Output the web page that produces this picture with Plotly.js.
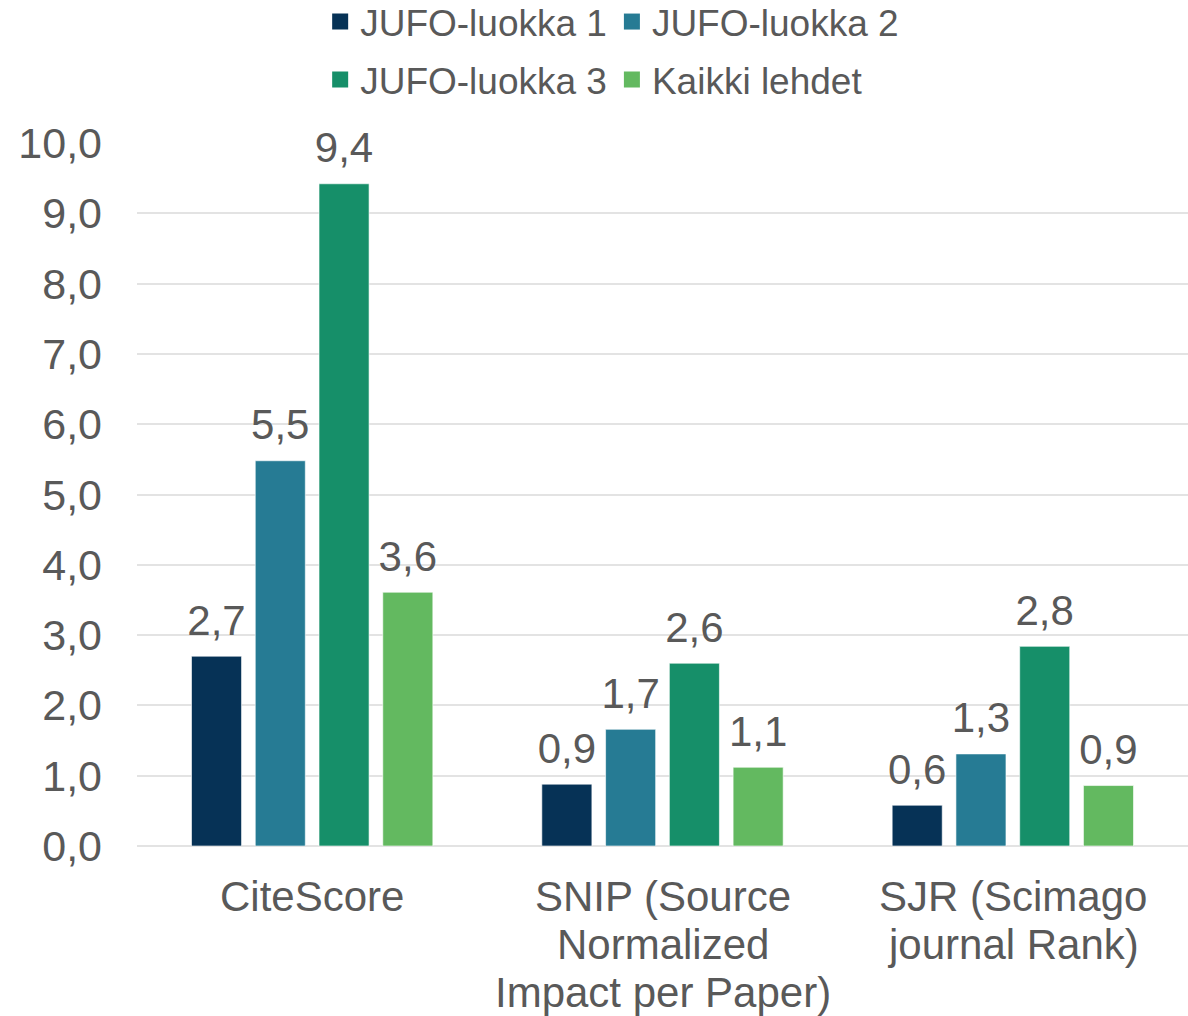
<!DOCTYPE html>
<html>
<head>
<meta charset="utf-8">
<script src="https://cdn.plot.ly/plotly-3.0.1.min.js"></script>
<style>html,body{margin:0;padding:0;background:#fff;}#chart{width:1188px;height:1016px;}</style>
</head>
<body>
<div id="chart"></div>
<script>
var categories = ["CiteScore", "SNIP (Source<br>Normalized<br>Impact per Paper)", "SJR (Scimago<br>journal Rank)"];
var seriesNames = ["JUFO-luokka 1", "JUFO-luokka 2", "JUFO-luokka 3", "Kaikki lehdet"];
var jufo1 = [2.7, 0.88, 0.58];
var jufo2 = [5.48, 1.66, 1.31];
var jufo3 = [9.42, 2.60, 2.84];
var kaikki = [3.61, 1.12, 0.86];
var yTicks = [0, 1, 2, 3, 4, 5, 6, 7, 8, 9, 10];
var colors = ["#063256", "#267b94", "#168f69", "#63b960"];

var FONT = "Liberation Sans, Arial, sans-serif";
var TXT = "#595959";
var seriesValues = [jufo1, jufo2, jufo3, kaikki];
var GAP = 0.272;

var traces = [];
// bars
seriesValues.forEach(function (vals, i) {
  traces.push({
    type: "bar",
    x: categories,
    y: vals,
    name: seriesNames[i],
    showlegend: false,
    marker: {color: colors[i], line: {color: "rgba(255,255,255,0.6)", width: 1}},
    hoverinfo: "skip"
  });
});
// value labels (grouped scatter text aligned with bars)
seriesValues.forEach(function (vals, i) {
  traces.push({
    type: "scatter",
    mode: "markers+text",
    x: categories,
    y: vals,
    name: seriesNames[i],
    showlegend: false,
    marker: {size: 16, color: "rgba(0,0,0,0)"},
    texttemplate: "%{y:.1f}",
    textposition: "top center",
    cliponaxis: false,
    textfont: {family: FONT, size: 42, color: TXT},
    hoverinfo: "skip"
  });
});
// legend carriers on hidden overlay axes
seriesValues.forEach(function (vals, i) {
  traces.push({
    type: "scatter",
    mode: "markers",
    x: [0],
    y: [null],
    xaxis: "x2",
    yaxis: "y2",
    name: seriesNames[i],
    legend: i < 2 ? "legend" : "legend2",
    marker: {symbol: "square", color: colors[i], size: 20},
    hoverinfo: "skip"
  });
});

// category labels, one annotation per line
var annotations = [];
categories.forEach(function (cat) {
  cat.split("<br>").forEach(function (line, k) {
    annotations.push({
      x: cat,
      xref: "x",
      yref: "paper",
      y: 0,
      yanchor: "middle",
      xanchor: "center",
      yshift: -(50 + k * 48),
      borderpad: 0,
      text: line,
      showarrow: false,
      font: {family: FONT, size: 42, color: TXT}
    });
  });
});

var legendBase = {
  orientation: "h",
  xref: "container",
  yref: "container",
  xanchor: "left",
  yanchor: "middle",
  x: 0.2695,
  font: {family: FONT, size: 37, color: TXT},
  bgcolor: "rgba(0,0,0,0)",
  itemwidth: 30,
  tracegroupgap: 0
};

var layout = {
  width: 1188,
  height: 1016,
  margin: {l: 137, r: 0, t: 143, b: 170},
  paper_bgcolor: "#ffffff",
  plot_bgcolor: "#ffffff",
  separators: ", ",
  barmode: "group",
  bargap: GAP,
  bargroupgap: 0.215,
  scattermode: "group",
  scattergap: GAP,
  font: {family: FONT, color: TXT},
  xaxis: {
    type: "category",
    showgrid: false,
    showline: false,
    ticks: "",
    showticklabels: false
  },
  yaxis: {
    range: [0, 10],
    tickvals: yTicks,
    tickformat: ".1f",
    showgrid: true,
    gridcolor: "#e3e3e3",
    gridwidth: 2,
    zeroline: true,
    zerolinecolor: "#e3e3e3",
    zerolinewidth: 2,
    showline: false,
    ticks: "",
    tickfont: {family: FONT, size: 43, color: TXT},
    ticklabelstandoff: 34
  },
  xaxis2: {overlaying: "x", visible: false, range: [0, 1]},
  yaxis2: {overlaying: "y", visible: false, range: [0, 1]},
  annotations: annotations,
  legend: Object.assign({}, legendBase, {y: 1 - 22 / 1016}),
  legend2: Object.assign({}, legendBase, {y: 1 - 80 / 1016}),
  showlegend: true
};

Plotly.newPlot("chart", traces, layout, {displayModeBar: false, staticPlot: true});
</script>
</body>
</html>
